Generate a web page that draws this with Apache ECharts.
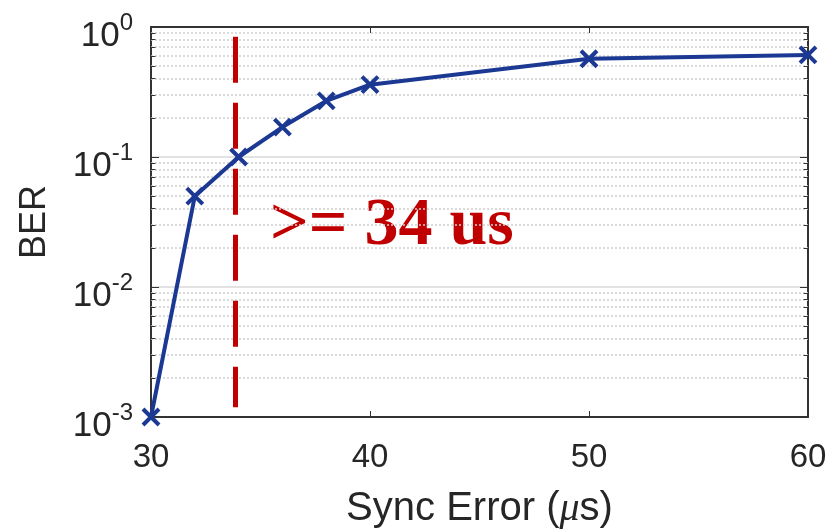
<!DOCTYPE html>
<html>
<head>
<meta charset="utf-8">
<script src="https://cdn.jsdelivr.net/npm/echarts@6/dist/echarts.min.js"></script>
<style>
  html, body { margin: 0; padding: 0; background: #fff; }
  #main { width: 831px; height: 532px; }
</style>
</head>
<body>
<div id="main"></div>
<script>
var dom = document.getElementById('main');
var myChart = echarts.init(dom);

// data
var syncError = [30, 32, 34, 36, 38, 40, 50, 60];
var ber = [0.001, 0.05, 0.1, 0.17, 0.27, 0.36, 0.57, 0.61];
var thresholdX = 33.85;
var thresholdText = '>= 34 us';
var minorGrid = [];
[0.001, 0.01, 0.1].forEach(function (d) {
    for (var k = 2; k <= 9; k++) minorGrid.push(+(d * k).toPrecision(3));
});

var blue = '#1b3893';
var red = '#c00000';
var txt = '#262626';

var markData = [];
minorGrid.forEach(function (v) {
    markData.push([{ coord: [30, v] }, { coord: [60, v] }]);
});
var tickData = [];
minorGrid.forEach(function (v) {
    tickData.push([{ coord: [30, v] }, { coord: [30.2, v] }]);
    tickData.push([{ coord: [59.8, v] }, { coord: [60, v] }]);
});

function markSeries(data, style, z) {
    return {
        type: 'line',
        data: [],
        silent: true,
        z: z || 2,
        markLine: {
            silent: true, symbol: 'none', animation: false,
            label: { show: false },
            lineStyle: style,
            data: data
        }
    };
}

option = {
    animation: false,
    grid: {
        left: 151, right: 23, top: 27, bottom: 115,
        outerBoundsMode: 'none',
        containLabel: false,
        show: true, borderColor: '#333', borderWidth: 1.5
    },
    xAxis: [
        {
            type: 'value',
            min: 30, max: 60, interval: 10,
            name: 'Sync Error ({i|μ}s)',
            nameLocation: 'middle',
            nameGap: 72,
            nameTextStyle: {
                fontFamily: 'Liberation Sans', fontSize: 40, color: txt,
                rich: { i: { fontFamily: 'Liberation Serif', fontStyle: 'italic', fontSize: 40, color: txt } }
            },
            axisLine: { lineStyle: { color: '#333', width: 2 } },
            axisTick: { inside: true, length: 6, lineStyle: { color: '#333' } },
            axisLabel: { fontFamily: 'Liberation Sans', fontSize: 33, color: txt, margin: 24 },
            splitLine: { show: false }
        },
        {
            type: 'value', position: 'top',
            min: 30, max: 60, interval: 10,
            axisLine: { lineStyle: { color: '#333', width: 2 } },
            axisTick: { inside: true, length: 6, lineStyle: { color: '#333' } },
            axisLabel: { show: false },
            splitLine: { show: false }
        }
    ],
    yAxis: [
        {
            type: 'log',
            min: 0.001, max: 1, logBase: 10,
            name: 'BER',
            nameLocation: 'middle',
            nameGap: 98,
            nameRotate: 90,
            nameTextStyle: { fontFamily: 'Liberation Sans', fontSize: 36, color: txt },
            axisLine: { show: true, lineStyle: { color: '#333', width: 2 } },
            axisTick: { inside: true, length: 8, lineStyle: { color: '#333' } },
            axisLabel: {
                margin: 18,
                formatter: function (v) {
                    return '{b|10}{s|' + Math.round(Math.log10(v)) + '}';
                },
                rich: {
                    b: { fontFamily: 'Liberation Sans', fontSize: 35, lineHeight: 36, color: txt, padding: [18, 0, 0, 0] },
                    s: { fontFamily: 'Liberation Sans', fontSize: 24, lineHeight: 26, color: txt, padding: [0, 0, 8, 0] }
                }
            },
            splitLine: { show: true, lineStyle: { color: '#d9d9d9', width: 1.5 } }
        },
        {
            type: 'log', position: 'right',
            min: 0.001, max: 1, logBase: 10,
            axisLine: { show: true, lineStyle: { color: '#333', width: 2 } },
            axisTick: { inside: true, length: 8, lineStyle: { color: '#333' } },
            axisLabel: { show: false },
            splitLine: { show: false }
        }
    ],
    series: [
        markSeries(markData, { color: '#cfcfcf', type: [2, 2], width: 1.5 }, 1),
        markSeries(tickData, { color: '#333', type: 'solid', width: 1 }, 2),
        markSeries([[{ coord: [thresholdX, 0.84] }, { coord: [thresholdX, 0.00119] }]],
            { color: red, type: [46, 20], width: 5 }, 3),
        {
            name: 'BER',
            type: 'line',
            z: 5,
            data: syncError.map(function (x, i) { return [x, ber[i]]; }),
            lineStyle: { color: blue, width: 4 },
            symbol: 'path://M0,0 L10,10 M10,0 L0,10',
            symbolSize: 16,
            itemStyle: { color: blue, borderColor: blue, borderWidth: 4 }
        }
    ],
    graphic: [
        {
            type: 'text',
            left: 270, top: 192,
            style: {
                text: thresholdText,
                fill: red,
                font: 'bold 68px "Liberation Serif", "DejaVu Serif", serif'
            }
        }
    ]
};

if (option && typeof option === 'object') {
    myChart.setOption(option, true);
}
</script>
</body>
</html>
